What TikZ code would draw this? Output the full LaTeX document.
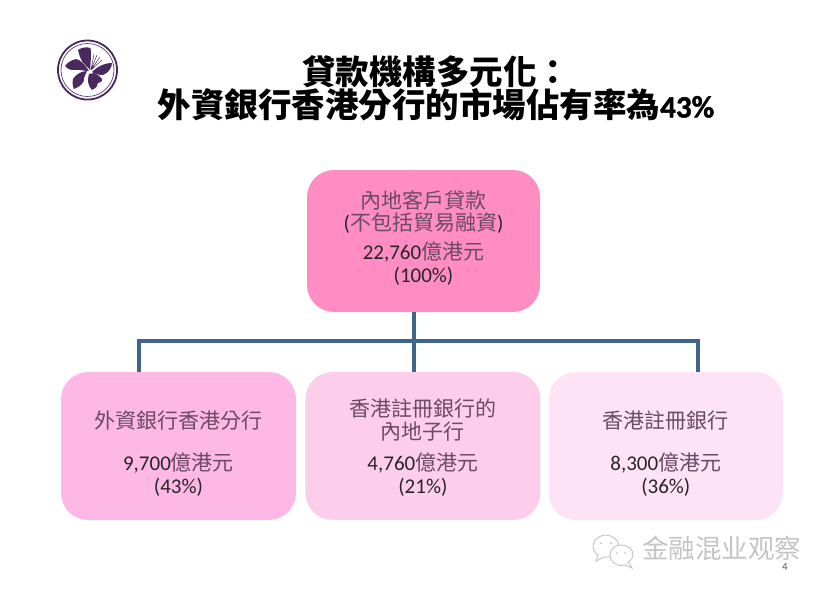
\documentclass[tikz,border=0pt]{standalone}
\usepackage{fontspec}
\setmainfont{Carlito}
\newfontfamily\cjk{Noto Sans CJK TC}
\newfontfamily\cjksc{Noto Sans CJK SC}
\newfontfamily\headnum[FakeBold=1.5]{Carlito}
\usepackage{tikz}
\usetikzlibrary{positioning, calc}
\definecolor{logopurple}{HTML}{4A2A5E}
\definecolor{linkblue}{HTML}{41658A}
\definecolor{labelcjk}{HTML}{6A4A64}
\definecolor{marksilver}{HTML}{C4C4C4}
\tikzstyle{box} = [rectangle, rounded corners=27pt, minimum height=148pt, minimum width=235pt,
text width=225pt, align=center, font=\fontsize{21}{23}\selectfont, inner sep=0pt, text=black!85]
\tikzstyle{link} = [line width=3.5pt, draw=linkblue]
\tikzstyle{petal} = [fill=logopurple, draw=none]
\tikzstyle{bubble} = [draw=marksilver, line width=.9pt, fill=white]
\newcommand{\zh}[1]{{\cjk\color{labelcjk}#1}}
\begin{document}
\begin{tikzpicture}[x=1pt, y=-1pt]
            \useasboundingbox (0,0) rectangle (827,590);
            % logo
            \node (ring) [circle, draw=logopurple, line width=1.8pt, minimum size=59pt, inner sep=0pt] at (87.5,70) {};
            \draw [logopurple, line width=.6pt] (ring.center) circle (26.5);
            \fill [petal] (90.5,70) .. controls (86,66) and (84,64) .. (82.5,62) .. controls (80,58) and (79,54) .. (78,50) .. controls (82,47) and (87,47) .. (90.5,48) .. controls (92,54) and (90,62) .. (90.5,70) -- cycle;
            \fill [petal] (89,71) .. controls (84,64) and (81,60) .. (76,59) .. controls (71,60) and (67,63) .. (65,66) .. controls (68,69) and (70,70) .. (72,70) .. controls (78,69) and (84,71) .. (89,71) -- cycle;
            \fill [petal] (87,71) .. controls (82,71) and (76,74) .. (73,79) .. controls (72,83) and (73,87) .. (74,89) .. controls (80,87) and (85,82) .. (84,78) -- cycle;
            \fill [petal] (89,74) .. controls (87,80) and (88,86) .. (92,90) .. controls (96,88) and (98,86) .. (98,83) .. controls (102,82) and (103,80) .. (102,79) .. controls (100,76) and (97,74) .. (94,73) -- cycle;
            \fill [petal] (92,72) .. controls (96,68) and (103,63) .. (112,63) .. controls (112,68) and (108,73) .. (103,75) .. controls (99,75) and (95,74) .. (92,72) -- cycle;
            \draw [logopurple, line width=.5pt] (91,70) -- (94,54) (91,70) -- (97,55) (91,70) -- (100,57) (91,70) -- (102,60);
            % title
            \node (head) [align=center, font=\fontsize{33.5}{32}\selectfont\bfseries] at (436,88) {{\cjk 貸款機構多元化：}\\{\cjk 外資銀行香港分行的市場佔有率為}{\headnum\fontsize{31}{32}\selectfont 43\%}};
            % boxes
            \node (total) [box, minimum height=142pt, minimum width=233pt, fill={rgb,255:red,255;green,140;blue,194}] at (423.5,241) {\zh{內地客戶貸款}\\[-1pt](\zh{不包括貿易融資})\\[6pt]22,760\zh{億港元}\\(100\%)\rule[-8pt]{0pt}{0pt}};
            \node (foreign) [box, fill={rgb,255:red,253;green,184;blue,230}] at (178.5,446) {\rule{0pt}{32pt}\zh{外資銀行香港分行}\\[19pt]9,700\zh{億港元}\\(43\%)};
            \node (subsid) [box, right=9pt of foreign, fill={rgb,255:red,252;green,206;blue,236}] {\rule{0pt}{21pt}\zh{香港註冊銀行的}\\\zh{內地子行}\\[8pt]4,760\zh{億港元}\\(21\%)};
            \node (local) [box, right=8pt of subsid, minimum width=234pt, fill={rgb,255:red,254;green,226;blue,245}] {\rule{0pt}{32pt}\zh{香港註冊銀行}\\[19pt]8,300\zh{億港元}\\(36\%)};
            % links
            \coordinate (busl) at (139,341);
            \coordinate (busm) at (414,341);
            \coordinate (busr) at (698,341);
            \draw [link] (busm |- total.south) -- (busm |- subsid.north);
            \draw [link] (busl |- foreign.north) |- (busr) -- (busr |- local.north);
            % watermark
            \node (mark) [font=\fontsize{26.5}{26}\selectfont\cjksc, text=marksilver, inner sep=0pt] at (721.5,548) {金融混业观察};
            \draw [bubble] (598,555) -- (596,561) -- (604,557) .. controls (612,558) and (619,553) .. (619,546) .. controls (619,540) and (612,535) .. (606,535) .. controls (599,535) and (593,540) .. (593,546) .. controls (593,550) and (595,553) .. (598,555) -- cycle;
            \draw [bubble] (628,562) -- (632,568) -- (625,565) .. controls (617,567) and (610,562) .. (610,555) .. controls (610,549) and (615,545) .. (621,545) .. controls (628,545) and (633,549) .. (633,555) .. controls (633,558) and (631,561) .. (628,562) -- cycle;
            \fill [marksilver] (601,543) circle (1) (611,543) circle (1) (617,553) circle (1) (625,553) circle (1);
            \node (page) [font=\fontsize{11}{11}\selectfont, text=black!65, inner sep=0pt] at (785,567) {4};
        \end{tikzpicture}
\end{document}
